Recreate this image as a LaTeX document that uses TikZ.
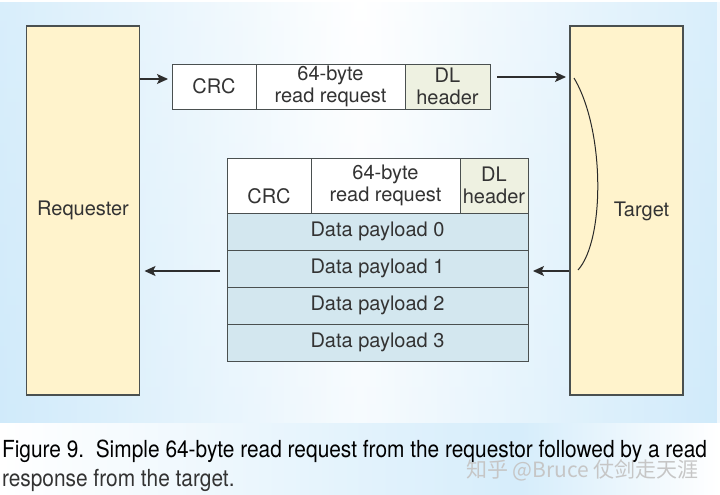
\documentclass[tikz,border=0pt]{standalone}
\usepackage{fontspec}
\setmainfont{TeX Gyre Heros}
\newfontfamily\capfont{TeX Gyre Heros}
\newfontfamily\cjkfont{Noto Sans CJK SC}
\usetikzlibrary{arrows.meta}
\definecolor{bgblue}{HTML}{C4E5F9}
\definecolor{cream}{HTML}{FFF3CC}
\definecolor{edge}{HTML}{4A5050}
\definecolor{rowblue}{HTML}{D3E7EF}
\definecolor{dlfill}{HTML}{EEF1E1}
\definecolor{txt}{HTML}{333333}
\newsavebox\capbox
\newlength\capwd
\begin{document}
\sbox\capbox{\capfont\fontsize{23.5}{26}\selectfont Figure 9.\ \ Simple 64-byte read request from the requestor followed by a read}%
\setlength\capwd{\wd\capbox}%
\pgfmathsetmacro\sx{705/\capwd}%
\begin{tikzpicture}[x=1pt,y=-1pt,
  font=\fontsize{20}{21.5}\selectfont, text=txt,
  every node/.style={inner sep=0pt, outer sep=0pt},
  block/.style={draw=edge, line width=1.1pt, fill=cream},
  cell/.style={draw=edge, line width=0.9pt, fill=white, align=center, anchor=north west},
  dlcell/.style={cell, fill=dlfill},
  rowcell/.style={cell, fill=rowblue, minimum width=301pt, minimum height=37pt},
  arr/.style={draw=txt!90!black, line width=1.1pt, -{Stealth[length=11pt,width=10pt,inset=2.5pt]}},
  brace/.style={draw=txt!80!black, line width=1pt}]
\useasboundingbox (0,0) rectangle (720,495);
% background
\shade[left color=bgblue, right color=bgblue, middle color=white] (0,0) rectangle (720,423);
\shade[top color=white, bottom color=bgblue!40, opacity=0.35] (0,0) rectangle (720,423);
\shade[left color=white, right color=bgblue!70] (0,423) rectangle (520,495);
\shade[left color=bgblue!70, right color=white] (520,423) rectangle (720,495);
\fill[white] (0,0) rectangle (720,2);
\fill[white, opacity=0.7] (717,0) rectangle (720,423);
% endpoints
\node[block, minimum width=113pt, minimum height=369pt] (req) at (83,210.5) {Requester};
\node[block, minimum width=113pt, minimum height=369pt] (tgt) at (626.5,210.5) {};
\node (tgtlabel) at (641.5,211) {Target};
% request packet
\node[cell, minimum width=84pt, minimum height=45pt] (crc1) at (172,64) {CRC};
\node[cell, minimum width=149pt, minimum height=45pt] (rr1) at (256,64) {64-byte\\read request};
\node[dlcell, minimum width=85pt, minimum height=45pt] (dl1) at (405,64) {DL\\header};
% response packet
\node[cell, minimum width=84pt, minimum height=55pt] (crc2) at (227,158) {\phantom{X}\\CRC};
\node[cell, minimum width=149pt, minimum height=55pt] (rr2) at (311,158) {64-byte\\read request};
\node[dlcell, minimum width=68pt, minimum height=55pt] (dl2) at (460,158) {DL\\header};
\node[rowcell] (p0) at (227,213) {Data payload 0};
\node[rowcell] (p1) at (227,250) {Data payload 1};
\node[rowcell] (p2) at (227,287) {Data payload 2};
\node[rowcell] (p3) at (227,324) {Data payload 3};
% arrows
\coordinate (ya) at (0,79);
\coordinate (yb) at (0,77);
\coordinate (yc) at (0,271);
\draw[arr, shorten >=4pt] (req.east |- ya) -- (crc1.west |- ya);
\draw[arr, shorten <=7pt, shorten >=4pt] (dl1.east |- yb) -- (tgt.west |- yb);
\draw[arr, shorten <=1pt, shorten >=5pt] (tgt.west |- yc) -- (p1.east |- yc);
\draw[arr, shorten <=7pt, shorten >=5pt] (p1.west |- yc) -- (req.east |- yc);
% brace
\coordinate (b1) at (574,78);
\coordinate (b2) at (578,270);
\draw[brace] (b1) .. controls (605,130) and (605,240) .. (b2);
% caption
\node[anchor=base west, text=txt] (cap1) at (2,457) {\scalebox{\sx}[1]{\usebox\capbox}};
\node[anchor=base west, text=txt] (cap2) at (2,486) {\scalebox{\sx}[1]{\capfont\fontsize{23.5}{26}\selectfont response from the target.}};
\node[anchor=base west, text=gray!45, font=\cjkfont\fontsize{21}{21}\selectfont] (wm) at (466,477) {知乎 @Bruce 仗剑走天涯};
\end{tikzpicture}
\end{document}
